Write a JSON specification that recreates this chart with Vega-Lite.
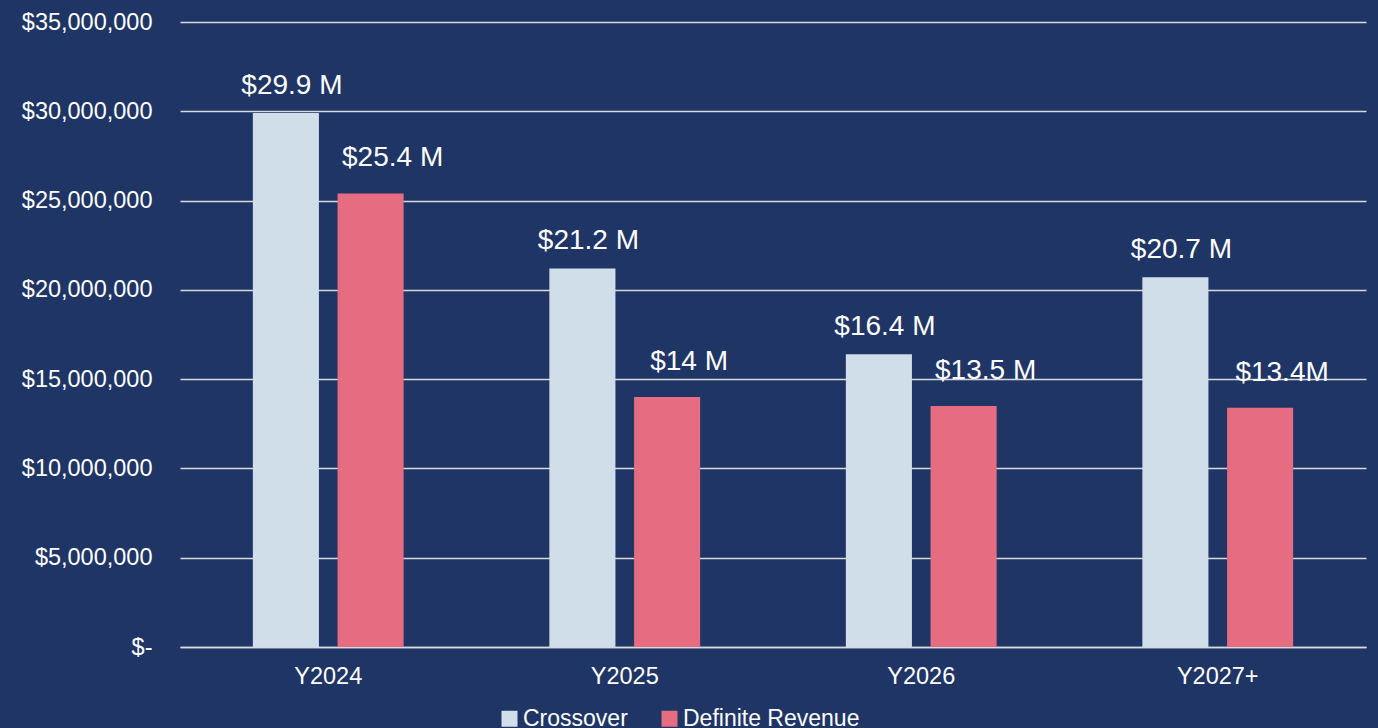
{
  "$schema": "https://vega.github.io/schema/vega-lite/v6.json",
  "width": 1186,
  "height": 625,
  "autosize": {"type": "none"},
  "padding": {"left": 180, "top": 22, "right": 12, "bottom": 81},
  "background": "#1F3565",
  "config": {
    "font": "Liberation Sans",
    "view": {"stroke": null},
    "axis": {"labelColor": "#FFFFFF", "titleColor": "#FFFFFF", "labelFont": "Liberation Sans"},
    "legend": {"labelColor": "#FFFFFF", "labelFont": "Liberation Sans"}
  },
  "data": {
    "values": [
      {"year": "Y2024", "series": "Crossover", "value": 29900000, "label": "$29.9 M"},
      {"year": "Y2024", "series": "Definite Revenue", "value": 25400000, "label": "$25.4 M"},
      {"year": "Y2025", "series": "Crossover", "value": 21200000, "label": "$21.2 M"},
      {"year": "Y2025", "series": "Definite Revenue", "value": 14000000, "label": "$14 M"},
      {"year": "Y2026", "series": "Crossover", "value": 16400000, "label": "$16.4 M"},
      {"year": "Y2026", "series": "Definite Revenue", "value": 13500000, "label": "$13.5 M"},
      {"year": "Y2027+", "series": "Crossover", "value": 20700000, "label": "$20.7 M"},
      {"year": "Y2027+", "series": "Definite Revenue", "value": 13400000, "label": "$13.4M"}
    ]
  },
  "encoding": {
    "x": {
      "field": "year", "type": "nominal", "sort": null,
      "scale": {"paddingInner": 0, "paddingOuter": 0},
      "axis": {"title": null, "labelAngle": 0, "labelFontSize": 23.5, "labelPadding": 17, "ticks": false, "domain": true, "domainColor": "#D9D9D9", "domainWidth": 1.5, "grid": false}
    },
    "xOffset": {
      "field": "series", "type": "nominal", "sort": ["Crossover", "Definite Revenue"],
      "scale": {"paddingInner": 0.22, "paddingOuter": 0.86}
    },
    "y": {
      "field": "value", "type": "quantitative",
      "scale": {"domain": [0, 35000000], "nice": false},
      "axis": {
        "title": null, "values": [0, 5000000, 10000000, 15000000, 20000000, 25000000, 30000000, 35000000],
        "labelExpr": "datum.value === 0 ? '$-' : '$' + format(datum.value, ',')",
        "labelOverlap": false, "labelFlush": false,
        "labelFontSize": 23.5, "labelPadding": 28, "ticks": false, "domain": false,
        "grid": true, "gridColor": "#D9D9D9", "gridWidth": 1.5
      }
    }
  },
  "layer": [
    {
      "mark": {"type": "bar"},
      "encoding": {
        "color": {
          "field": "series", "type": "nominal", "sort": ["Crossover", "Definite Revenue"],
          "scale": {"domain": ["Crossover", "Definite Revenue"], "range": ["#D0DEEA", "#E56C81"]},
          "legend": {
            "title": null, "orient": "none", "direction": "horizontal",
            "legendX": 318, "legendY": 685,
            "symbolType": "square", "symbolSize": 256, "symbolStrokeWidth": 0,
            "labelFontSize": 23, "labelOffset": 2, "labelLimit": 0, "columnPadding": 30
          }
        }
      }
    },
    {
      "transform": [{"filter": "datum.series === 'Crossover'"}],
      "mark": {"type": "text", "baseline": "middle", "align": "center", "dy": -27, "dx": 6, "fontSize": 28, "color": "#FFFFFF"},
      "encoding": {"text": {"field": "label"}}
    },
    {
      "transform": [{"filter": "datum.series === 'Definite Revenue'"}],
      "mark": {"type": "text", "baseline": "middle", "align": "center", "dy": -35, "dx": 22, "fontSize": 28, "color": "#FFFFFF"},
      "encoding": {"text": {"field": "label"}}
    }
  ]
}
